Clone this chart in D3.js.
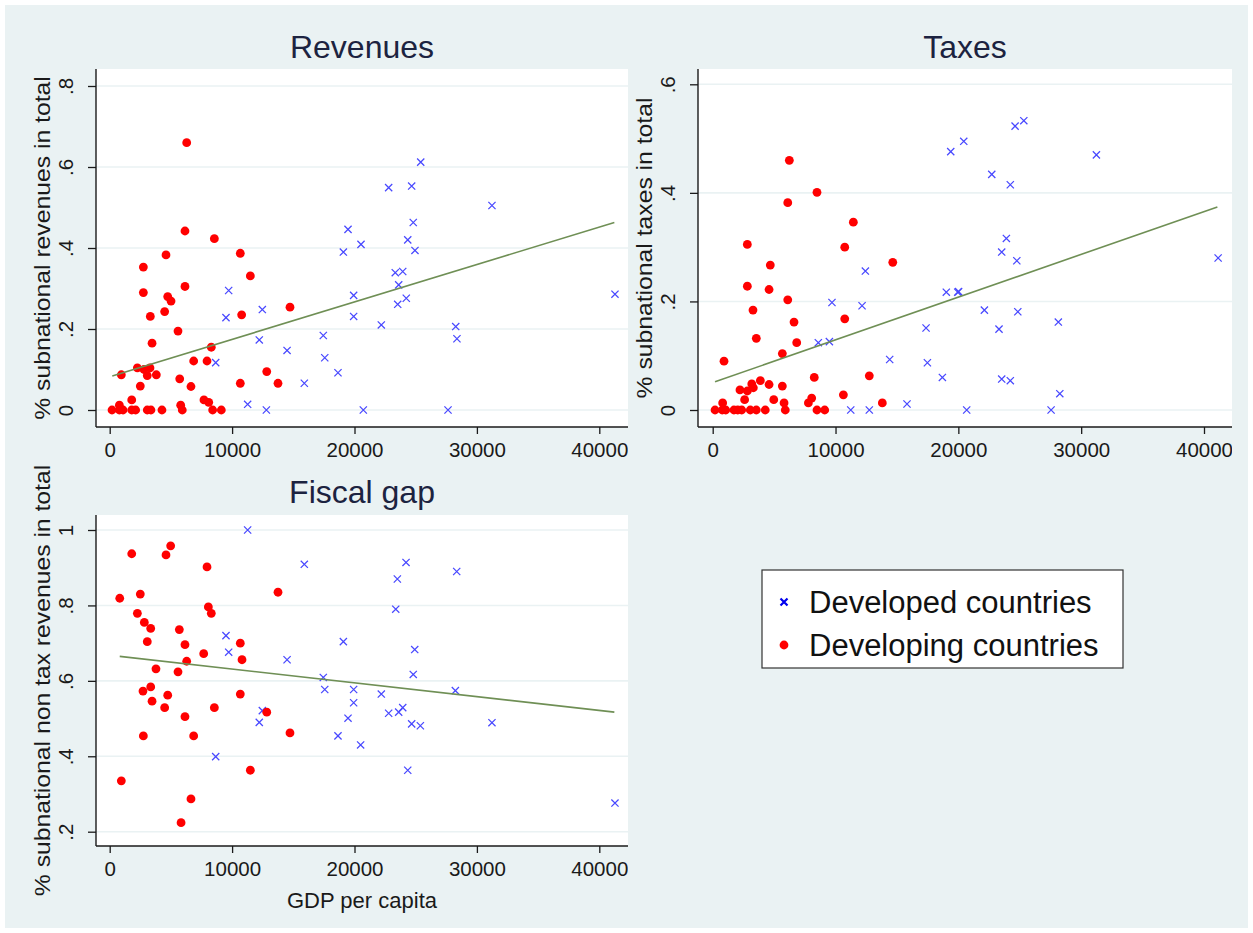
<!DOCTYPE html>
<html><head><meta charset="utf-8">
<script src="https://cdn.jsdelivr.net/npm/d3@7"></script>
<style>body{margin:0;background:#fff}svg{display:block}text{font-family:Arial,"Liberation Sans",sans-serif}</style>
</head><body>
<svg id="c" width="1253" height="933"></svg>
<script>
// ---------- DATA ----------
const xTicks = [0, 10000, 20000, 30000, 40000];
const revYTicks = [0, 0.2, 0.4, 0.6, 0.8];
const taxYTicks = [0, 0.2, 0.4, 0.6];
const gapYTicks = [0.2, 0.4, 0.6, 0.8, 1];
const legendLabels = ["Developed countries", "Developing countries"];

// [GDP per capita, share]
const revDeveloping = [[6290,0.66],[6150,0.442],[8550,0.423],[4600,0.383],[10670,0.387],[2750,0.353],[11490,0.331],[2750,0.29],[6150,0.305],[4740,0.28],[5010,0.269],[4490,0.243],[3320,0.231],[10780,0.235],[14730,0.254],[5580,0.195],[3460,0.165],[8300,0.155],[6860,0.121],[7950,0.121],[2260,0.104],[2800,0.10],[3290,0.104],[950,0.087],[3070,0.085],[3810,0.087],[12830,0.095],[2500,0.059],[5720,0.077],[6640,0.058],[10670,0.066],[13750,0.066],[1800,0.025],[7700,0.025],[8090,0.019],[5800,0.012],[790,0.012],[190,0],[790,0],[1090,0],[1800,0],[2120,0],[3070,0],[3370,0],[4270,0],[5930,0],[8410,0],[9120,0]];
const revDeveloped = [[19470,0.446],[19090,0.39],[20530,0.409],[9720,0.295],[19930,0.283],[9500,0.228],[12470,0.248],[19930,0.231],[12220,0.173],[17450,0.184],[14490,0.147],[17570,0.129],[8660,0.117],[18650,0.092],[15900,0.066],[11270,0.014],[12800,0],[20720,0],[25410,0.612],[22790,0.549],[24670,0.553],[31230,0.505],[24800,0.463],[24350,0.42],[24940,0.394],[23330,0.339],[23940,0.342],[23610,0.309],[23530,0.261],[24230,0.276],[22190,0.21],[28270,0.206],[28370,0.176],[41280,0.286],[27640,0]];
const revFit = [[210,0.084],[41230,0.463]];

const taxDeveloping = [[6240,0.46],[8490,0.401],[6110,0.382],[11450,0.346],[2820,0.305],[10750,0.30],[4690,0.267],[14660,0.272],[2820,0.228],[4590,0.222],[6110,0.203],[3280,0.184],[6620,0.162],[10750,0.168],[3550,0.132],[6840,0.124],[5670,0.104],[920,0.09],[8270,0.06],[12750,0.063],[3880,0.054],[4590,0.047],[5670,0.044],[2220,0.037],[2820,0.035],[3180,0.048],[3310,0.041],[2600,0.019],[4970,0.019],[10640,0.028],[13810,0.013],[810,0.013],[5810,0.013],[7790,0.013],[8060,0.022],[190,0],[780,0],[1060,0],[1730,0],[2040,0],[2360,0],[3060,0],[3550,0],[4280,0],[5910,0],[8490,0],[9120,0]];
const taxDeveloped = [[19380,0.476],[20440,0.495],[12430,0.256],[19020,0.217],[19950,0.217],[20020,0.218],[9710,0.198],[12160,0.192],[17370,0.151],[8600,0.124],[9500,0.126],[14410,0.093],[17480,0.087],[18700,0.06],[15820,0.011],[11240,0],[12750,0],[20680,0],[24620,0.523],[25330,0.533],[31240,0.47],[22720,0.434],[24230,0.415],[23910,0.316],[23530,0.291],[24760,0.275],[41150,0.28],[22120,0.184],[24840,0.181],[23310,0.149],[28140,0.162],[23530,0.057],[24230,0.054],[28260,0.03],[27550,0]];
const taxFit = [[190,0.052],[41090,0.374]];

const gapDeveloping = [[1800,0.937],[4980,0.958],[4600,0.934],[7950,0.902],[820,0.819],[2500,0.83],[13750,0.835],[8060,0.796],[8300,0.779],[2260,0.779],[2830,0.755],[3350,0.739],[5690,0.736],[3070,0.704],[6150,0.696],[10670,0.70],[7680,0.672],[10810,0.656],[6290,0.652],[3780,0.632],[5580,0.624],[3350,0.584],[2720,0.573],[4740,0.562],[10670,0.565],[3460,0.546],[4490,0.529],[8550,0.529],[12830,0.517],[6150,0.505],[2750,0.454],[6860,0.454],[14730,0.462],[11490,0.363],[950,0.335],[6640,0.287],[5830,0.224]];
const gapDeveloped = [[11270,1.0],[15900,0.909],[9500,0.72],[9720,0.676],[19090,0.704],[14490,0.656],[17450,0.609],[17570,0.577],[19930,0.577],[19930,0.542],[12470,0.521],[12220,0.49],[19470,0.501],[18650,0.454],[20500,0.43],[8660,0.399],[24210,0.914],[23500,0.87],[28350,0.89],[23370,0.79],[24920,0.683],[24800,0.617],[28240,0.574],[22190,0.565],[22790,0.514],[23610,0.517],[23940,0.529],[24670,0.486],[25380,0.481],[31230,0.489],[24350,0.363],[41280,0.276]];
const gapFit = [[820,0.665],[41230,0.517]];

// ---------- LAYOUT ----------
const C = {bg:"#eaf2f3", grid:"#eaf2f3", axis:"#1a1a1a", blue:"#4848ff", red:"#ff0000", fit:"#6f8f55", title:"#1c2340", text:"#1a1a1a"};
const panels = [
  {title:"Revenues", ytitle:"% subnational revenues in total", dev:revDeveloped, dvg:revDeveloping, fit:revFit, yTicks:revYTicks,
   yDomain:[0,0.8], yRange:[410,86], xRange:[109.7,599.3], box:{l:96,r:628,t:69,b:427}, titleY:47, xtitle:null},
  {title:"Taxes", ytitle:"% subnational taxes in total", dev:taxDeveloped, dvg:taxDeveloping, fit:taxFit, yTicks:taxYTicks,
   yDomain:[0,0.6], yRange:[410,84.3], xRange:[712.7,1204], box:{l:698,r:1232,t:69,b:427}, titleY:47, xtitle:null},
  {title:"Fiscal gap", ytitle:"% subnational non tax revenues in total", dev:gapDeveloped, dvg:gapDeveloping, fit:gapFit, yTicks:gapYTicks,
   yDomain:[0.2,1], yRange:[831.7,530], xRange:[109.7,599.3], box:{l:96,r:628,t:515,b:846}, titleY:492, xtitle:"GDP per capita"}
];

const svg = d3.select("#c");
svg.append("rect").attr("x",5).attr("y",5).attr("width",1243).attr("height",923).attr("fill",C.bg);
const defs = svg.append("defs");
const fmt = d => d === 0 ? "0" : (d === 1 ? "1" : String(+d.toFixed(1)).replace(/^0/, ""));

panels.forEach((p, i) => {
  const b = p.box;
  const x = d3.scaleLinear().domain([0, 40000]).range(p.xRange);
  const y = d3.scaleLinear().domain(p.yDomain).range(p.yRange);
  defs.append("clipPath").attr("id","clip"+i).append("rect")
    .attr("x", b.l - 100).attr("y", b.t - 70).attr("width", b.r - b.l + 100).attr("height", b.b - b.t + 150);
  const g = svg.append("g").attr("clip-path", `url(#clip${i})`);

  g.append("text").attr("x",(b.l+b.r)/2).attr("y",p.titleY).attr("text-anchor","middle")
    .attr("dominant-baseline","central").attr("font-size",32).attr("fill",C.title).text(p.title);

  g.append("rect").attr("x",b.l).attr("y",b.t).attr("width",b.r-b.l).attr("height",b.b-b.t).attr("fill","#fff");

  // gridlines
  g.append("g").selectAll("line").data(p.yTicks).join("line")
    .attr("x1",b.l).attr("x2",b.r).attr("y1",d=>y(d)).attr("y2",d=>y(d))
    .attr("stroke",C.grid).attr("stroke-width",1.6);

  // x axis
  const xa = g.append("g").attr("transform",`translate(0,${b.b})`)
    .call(d3.axisBottom(x).tickValues(xTicks).tickSize(7).tickPadding(8).tickFormat(d3.format("d")));
  xa.select(".domain").remove();
  xa.selectAll("line").attr("stroke",C.axis).attr("stroke-width",1.3);
  xa.selectAll("text").attr("font-size",20.5).attr("fill",C.text).attr("font-family","Arial, 'Liberation Sans', sans-serif");

  // y axis
  const ya = g.append("g").attr("transform",`translate(${b.l},0)`)
    .call(d3.axisLeft(y).tickValues(p.yTicks).tickSize(8).tickFormat(fmt));
  ya.select(".domain").remove();
  ya.selectAll("line").attr("stroke",C.axis).attr("stroke-width",1.3);
  ya.selectAll("text").attr("font-size",20.5).attr("fill",C.text).attr("font-family","Arial, 'Liberation Sans', sans-serif")
    .attr("text-anchor","middle").attr("dominant-baseline","central")
    .attr("x",0).attr("dy",null).attr("transform","translate(-31,0) rotate(-90)");

  // axis lines along plot edges
  g.append("line").attr("x1",b.l).attr("x2",b.l).attr("y1",b.t).attr("y2",b.b).attr("stroke",C.axis).attr("stroke-width",1.4);
  g.append("line").attr("x1",b.l).attr("x2",b.r).attr("y1",b.b).attr("y2",b.b).attr("stroke",C.axis).attr("stroke-width",1.4);

  // y title (slightly elongated along its length, as in the reference)
  const cy = (b.t + b.b) / 2;
  g.append("text").attr("transform",`translate(${b.l-53},${cy}) scale(1,1.15) rotate(-90)`).attr("text-anchor","middle")
    .attr("dominant-baseline","central").attr("font-size",21.5).attr("fill",C.text).text(p.ytitle);

  if (p.xtitle) {
    g.append("text").attr("x",(b.l+b.r)/2).attr("y",b.b+54).attr("text-anchor","middle")
      .attr("dominant-baseline","central").attr("font-size",22).attr("fill",C.text).text(p.xtitle);
  }

  // developed: x markers
  const s = 3.6;
  g.append("g").selectAll("path").data(p.dev).join("path")
    .attr("d", d => { const cx = x(d[0]), cyy = y(d[1]); return `M${cx-s},${cyy-s}L${cx+s},${cyy+s}M${cx-s},${cyy+s}L${cx+s},${cyy-s}`; })
    .attr("stroke",C.blue).attr("stroke-width",1.25).attr("fill","none");
  // developing: dots
  g.append("g").selectAll("circle").data(p.dvg).join("circle")
    .attr("cx",d=>x(d[0])).attr("cy",d=>y(d[1])).attr("r",4.4).attr("fill",C.red);
  // fit line
  g.append("path").datum(p.fit).attr("d", d3.line().x(d=>x(d[0])).y(d=>y(d[1])))
    .attr("stroke",C.fit).attr("stroke-width",1.6).attr("fill","none");
});

// legend
const lg = svg.append("g");
lg.append("rect").attr("x",762).attr("y",570).attr("width",361).attr("height",98).attr("fill","#fff").attr("stroke","#333").attr("stroke-width",1.2);
const rows = [{y:602, type:"x"}, {y:645, type:"o"}];
rows.forEach((r, i) => {
  if (r.type === "x") {
    const s = 3.5, cx = 784, cy = r.y;
    lg.append("path").attr("d",`M${cx-s},${cy-s}L${cx+s},${cy+s}M${cx-s},${cy+s}L${cx+s},${cy-s}`).attr("stroke","#0000ee").attr("stroke-width",2.2);
  } else {
    lg.append("circle").attr("cx",784).attr("cy",r.y).attr("r",4.4).attr("fill",C.red);
  }
  lg.append("text").attr("x",809).attr("y",r.y).attr("dominant-baseline","central").attr("font-size",31).attr("fill","#111").text(legendLabels[i]);
});
</script>
</body></html>
